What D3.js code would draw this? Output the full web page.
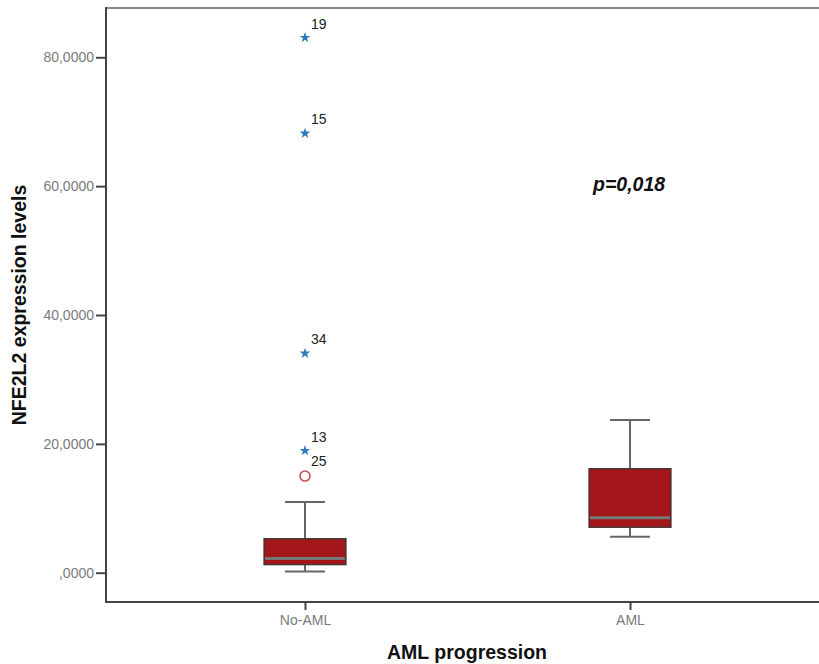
<!DOCTYPE html>
<html>
<head>
<meta charset="utf-8">
<script src="https://cdn.jsdelivr.net/npm/d3@7"></script>
<style>
  html, body { margin: 0; padding: 0; background: #fff; }
  svg { display: block; font-family: "Liberation Sans", Arial, sans-serif; }
</style>
</head>
<body>
<svg id="chart" width="819" height="664"></svg>
<script>
// ---- data ----
const categories = ["No-AML", "AML"];
const whiskerLow = [0.20, 5.59];
const q1 = [1.24, 7.05];
const median = [2.20, 8.54];
const q3 = [5.28, 16.15];
const whiskerHigh = [10.98, 23.70];

const outlierCat = ["No-AML", "No-AML", "No-AML", "No-AML", "No-AML"];
const outlierValue = [83.05, 68.20, 34.05, 18.94, 15.00];
const outlierId = ["19", "15", "34", "13", "25"];
const outlierType = ["extreme", "extreme", "extreme", "extreme", "outlier"];

const yTicks = [0, 20, 40, 60, 80];
const yTitle = "NFE2L2 expression levels";
const xTitle = "AML progression";
const pLabel = "p=0,018";

// ---- layout ----
const W = 819, H = 664;
const pLeft = 106, pRight = 829, pTop = 8, pBottom = 602;

const svg = d3.select("#chart");

const x = d3.scalePoint().domain(categories).range([pLeft, pRight]).padding(0.6123);
const y = d3.scaleLinear().domain([-4.548, 87.652]).range([pBottom, pTop]);

const fmt = v => {
  let s = d3.format(".4f")(v).replace(".", ",");
  if (s.startsWith("0,")) s = s.slice(1);
  return s;
};

// frame
svg.append("line").attr("x1", pLeft).attr("x2", W).attr("y1", pTop).attr("y2", pTop)
  .attr("stroke", "#8a8a8a").attr("stroke-width", 2);

// y axis
const yAxis = svg.append("g").attr("transform", `translate(${pLeft},0)`)
  .call(d3.axisLeft(y).tickValues(yTicks).tickFormat(fmt).tickSize(10).tickPadding(2));
yAxis.select(".domain").remove();
yAxis.selectAll(".tick line").attr("stroke", "#444").attr("stroke-width", 2);
yAxis.selectAll(".tick text").attr("fill", "#7a7a7a").style("font-size", "14px")
  .style("font-family", "'Liberation Sans', Arial, sans-serif");
svg.append("line").attr("x1", pLeft).attr("x2", pLeft).attr("y1", pTop - 1).attr("y2", pBottom + 1)
  .attr("stroke", "#444").attr("stroke-width", 2);

// x axis
const xAxis = svg.append("g").attr("transform", `translate(0,${pBottom})`)
  .call(d3.axisBottom(x).tickSize(8).tickPadding(5));
xAxis.select(".domain").remove();
xAxis.selectAll(".tick line").attr("stroke", "#444").attr("stroke-width", 2);
xAxis.selectAll(".tick text").attr("fill", "#7a7a7a").style("font-size", "14px")
  .style("font-family", "'Liberation Sans', Arial, sans-serif");
svg.append("line").attr("x1", pLeft - 1).attr("x2", W).attr("y1", pBottom).attr("y2", pBottom)
  .attr("stroke", "#444").attr("stroke-width", 2);

// boxes
const boxW = 82, capW = 40;
const rows = categories.map((c, i) => ({
  c, lo: whiskerLow[i], q1: q1[i], med: median[i], q3: q3[i], hi: whiskerHigh[i]
}));
const g = svg.append("g").selectAll("g").data(rows).join("g");

g.append("line").attr("x1", d => x(d.c)).attr("x2", d => x(d.c))
  .attr("y1", d => y(d.q3)).attr("y2", d => y(d.hi))
  .attr("stroke", "#666").attr("stroke-width", 2);
g.append("line").attr("x1", d => x(d.c)).attr("x2", d => x(d.c))
  .attr("y1", d => y(d.lo)).attr("y2", d => y(d.q1))
  .attr("stroke", "#666").attr("stroke-width", 2);
g.append("line").attr("x1", d => x(d.c) - capW / 2).attr("x2", d => x(d.c) + capW / 2)
  .attr("y1", d => y(d.hi)).attr("y2", d => y(d.hi))
  .attr("stroke", "#666").attr("stroke-width", 2);
g.append("line").attr("x1", d => x(d.c) - capW / 2).attr("x2", d => x(d.c) + capW / 2)
  .attr("y1", d => y(d.lo)).attr("y2", d => y(d.lo))
  .attr("stroke", "#666").attr("stroke-width", 2);
g.append("rect").attr("x", d => x(d.c) - boxW / 2).attr("width", boxW)
  .attr("y", d => y(d.q3)).attr("height", d => y(d.q1) - y(d.q3))
  .attr("fill", "#a3171b").attr("stroke", "#333").attr("stroke-width", 1.2);
g.append("line").attr("x1", d => x(d.c) - boxW / 2 + 1).attr("x2", d => x(d.c) + boxW / 2 - 1)
  .attr("y1", d => y(d.med)).attr("y2", d => y(d.med))
  .attr("stroke", "#777").attr("stroke-width", 3);

// outliers
const outs = outlierValue.map((v, i) => ({ c: outlierCat[i], v, id: outlierId[i], t: outlierType[i] }));
const og = svg.append("g").selectAll("g").data(outs).join("g")
  .attr("transform", d => `translate(${x(d.c)},${y(d.v)})`);
og.filter(d => d.t === "extreme").append("path")
  .attr("d", d3.symbol().type(d3.symbolStar).size(36))
  .attr("fill", "#2b7bba");
og.filter(d => d.t === "outlier").append("circle")
  .attr("r", 5).attr("fill", "none").attr("stroke", "#c8504f").attr("stroke-width", 1.6);
og.append("text").attr("x", 6).attr("y", d => d.t === "outlier" ? -10 : -9)
  .attr("fill", "#222").style("font-size", "14px").text(d => d.id);

// p value
svg.append("text").attr("x", 593).attr("y", 191)
  .style("font-size", "19.5px").style("font-weight", "bold").style("font-style", "italic")
  .attr("fill", "#111").text(pLabel);

// axis titles
svg.append("text").attr("transform", `translate(26,${(pTop + pBottom) / 2}) rotate(-90)`)
  .attr("text-anchor", "middle").style("font-size", "19.5px").style("font-weight", "bold")
  .attr("fill", "#111").text(yTitle);
svg.append("text").attr("x", 467).attr("y", 659)
  .attr("text-anchor", "middle").style("font-size", "19.5px").style("font-weight", "bold")
  .attr("fill", "#111").text(xTitle);
</script>
</body>
</html>
